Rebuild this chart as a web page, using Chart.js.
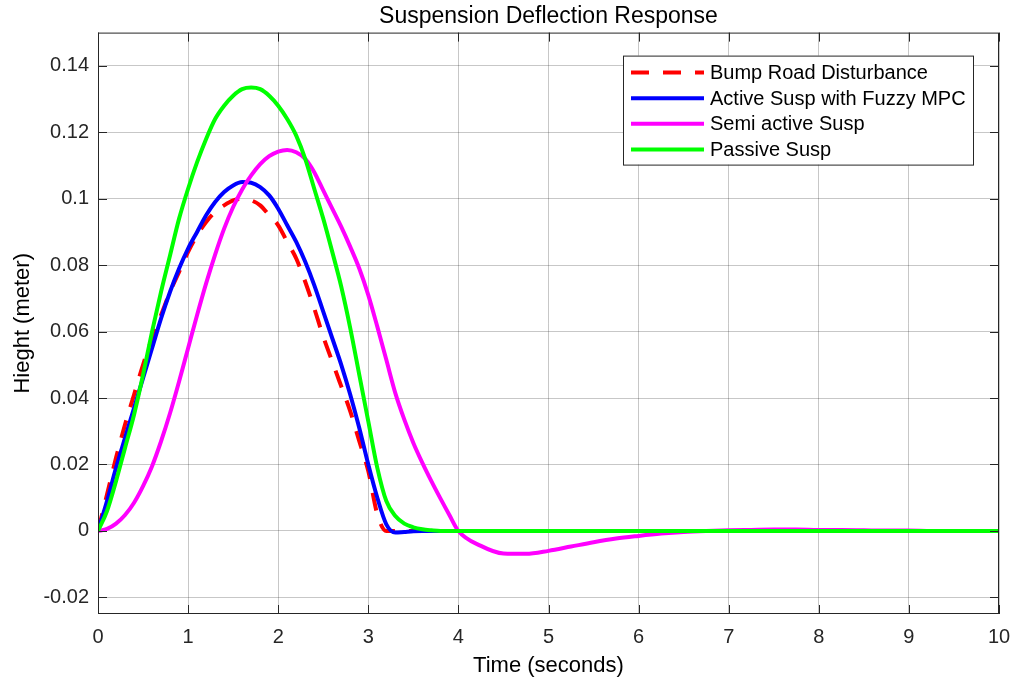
<!DOCTYPE html>
<html>
<head>
<meta charset="utf-8">
<script src="https://cdn.jsdelivr.net/npm/chart.js@4"></script>
<style>
  html, body { margin: 0; padding: 0; background: #fff; }
  #wrap { width: 1011px; height: 680px; }
</style>
</head>
<body>
<div id="wrap"><canvas id="deflChart" width="1011" height="680"></canvas></div>
<script>
// 시간축 (초) - 0~4초는 0.1 간격, 이후 0.25 간격
const timeSec = [
  0, 0.1, 0.2, 0.3, 0.4, 0.5, 0.6, 0.7, 0.8, 0.9,
  1.0, 1.1, 1.2, 1.3, 1.4, 1.5, 1.6, 1.7, 1.8, 1.9,
  2.0, 2.1, 2.2, 2.3, 2.4, 2.5, 2.6, 2.7, 2.8, 2.9,
  3.0, 3.1, 3.2, 3.3, 3.4, 3.5, 3.6, 3.7, 3.8, 3.9,
  4.0, 4.25, 4.5, 4.75, 5.0, 5.25, 5.5, 5.75, 6.0, 6.25,
  6.5, 6.75, 7.0, 7.25, 7.5, 7.75, 8.0, 8.25, 8.5, 8.75,
  9.0, 9.25, 9.5, 9.75, 10.0
];

// 노면 범프 입력 (빨간 점선)
const bumpRoad = [
  0, 0.011, 0.022, 0.032, 0.041, 0.050, 0.058, 0.065, 0.072, 0.078,
  0.084, 0.089, 0.093, 0.096, 0.098, 0.0995, 0.100, 0.0995, 0.098, 0.095,
  0.092, 0.087, 0.082, 0.075, 0.067, 0.0585, 0.051, 0.0435, 0.036, 0.027,
  0.018, 0.005, 0, 0, 0, 0, 0, 0, 0, 0,
  0, 0, 0, 0, 0, 0, 0, 0, 0, 0,
  0, 0, 0, 0, 0, 0, 0, 0, 0, 0,
  0, 0, 0, 0, 0
];

// 능동 현가 (Fuzzy MPC)
const activeFuzzy = [
  0, 0.009, 0.019, 0.028, 0.037, 0.046, 0.055, 0.064, 0.072, 0.079,
  0.085, 0.090, 0.095, 0.099, 0.102, 0.104, 0.105, 0.1048, 0.1035, 0.101,
  0.097, 0.092, 0.087, 0.081, 0.074, 0.066, 0.058, 0.050, 0.041, 0.031,
  0.020, 0.010, 0.002, -0.0005, -0.0003, -0.0001, 0, 0, 0, 0,
  0, 0, 0, 0, 0, 0, 0, 0, 0, 0,
  0, 0, 0, 0, 0, 0, 0, 0, 0, 0,
  0, 0, 0, 0, 0
];

// 반능동 현가
const semiActive = [
  0, 0.0006, 0.0022, 0.0048, 0.0085, 0.0135, 0.0195, 0.027, 0.0355, 0.045,
  0.055, 0.065, 0.0745, 0.0832, 0.091, 0.0975, 0.1028, 0.107, 0.1104, 0.1128,
  0.1142, 0.1147, 0.114, 0.112, 0.108, 0.1025, 0.097, 0.0915, 0.0855, 0.079,
  0.071, 0.0615, 0.0515, 0.0415, 0.0335, 0.0265, 0.0205, 0.015, 0.0098, 0.0048,
  0, -0.0045, -0.0068, -0.0069, -0.006, -0.0047, -0.0034, -0.0023, -0.0015, -0.0008,
  -0.0003, 0, 0.0002, 0.0003, 0.0004, 0.0004, 0.0003, 0.0003, 0.0002, 0.0001,
  0.0001, 0, 0, 0, 0
];

// 수동 현가
const passive = [
  0, 0.006, 0.015, 0.025, 0.035, 0.047, 0.060, 0.072, 0.083, 0.094,
  0.103, 0.111, 0.118, 0.124, 0.128, 0.131, 0.133, 0.1335, 0.133, 0.131,
  0.128, 0.124, 0.119, 0.112, 0.103, 0.094, 0.084, 0.0735, 0.061, 0.047,
  0.033, 0.019, 0.009, 0.0045, 0.0022, 0.0011, 0.0005, 0.0002, 0, 0,
  0, 0, 0, 0, 0, 0, 0, 0, 0, 0,
  0, 0, 0, 0, 0, 0, 0, 0, 0, 0,
  0, 0, 0, 0, 0
];

const seriesNames = ['Bump Road Disturbance', 'Active Susp with Fuzzy MPC', 'Semi active Susp', 'Passive Susp'];

// 눈금
const xTickValues = [0, 1, 2, 3, 4, 5, 6, 7, 8, 9, 10];
const xTickLabels = ['0', '1', '2', '3', '4', '5', '6', '7', '8', '9', '10'];
const yTickValues = [-0.02, 0, 0.02, 0.04, 0.06, 0.08, 0.1, 0.12, 0.14];
const yTickLabels = ['-0.02', '0', '0.02', '0.04', '0.06', '0.08', '0.1', '0.12', '0.14'];

const FONT = '"Liberation Sans", Arial, Helvetica, sans-serif';

function toPoints(vals) {
  return timeSec.map((t, i) => ({ x: t, y: vals[i] }));
}

// 박스 테두리 + 안쪽 눈금 + 범례 (MATLAB 스타일)
const matlabFrame = {
  id: 'matlabFrame',
  afterDraw(chart) {
    const { ctx, chartArea: a, scales } = chart;
    ctx.save();
    ctx.strokeStyle = '#262626';
    ctx.lineWidth = 1;
    ctx.strokeRect(a.left + 0.5, a.top + 0.5, a.right - a.left - 1, a.bottom - a.top - 1);

    // 안쪽 눈금
    const tl = 9;
    ctx.beginPath();
    xTickValues.forEach(v => {
      const px = Math.round(scales.x.getPixelForValue(v)) + 0.5;
      ctx.moveTo(px, a.bottom); ctx.lineTo(px, a.bottom - tl);
      ctx.moveTo(px, a.top); ctx.lineTo(px, a.top + tl);
    });
    yTickValues.forEach(v => {
      const py = Math.round(scales.y.getPixelForValue(v)) + 0.5;
      ctx.moveTo(a.left, py); ctx.lineTo(a.left + tl, py);
      ctx.moveTo(a.right, py); ctx.lineTo(a.right - tl, py);
    });
    ctx.stroke();

    // 범례
    const bx = a.right - 376, by = a.top + 23, bw = 350, bh = 109;
    ctx.fillStyle = '#fff';
    ctx.fillRect(bx, by, bw, bh);
    ctx.strokeStyle = '#262626';
    ctx.strokeRect(bx + 0.5, by + 0.5, bw, bh);
    ctx.font = '20px ' + FONT;
    ctx.textBaseline = 'middle';
    chart.data.datasets.forEach((ds, i) => {
      const y = by + 17 + i * 25.6;
      ctx.beginPath();
      ctx.strokeStyle = ds.borderColor;
      ctx.lineWidth = 4;
      ctx.setLineDash(ds.borderDash || []);
      ctx.moveTo(bx + 8, y);
      ctx.lineTo(bx + 81, y);
      ctx.stroke();
      ctx.setLineDash([]);
      ctx.fillStyle = '#000';
      ctx.fillText(seriesNames[i], bx + 87, y + 1);
    });
    ctx.restore();
  }
};

const ctx = document.getElementById('deflChart').getContext('2d');
const myChart = new Chart(ctx, {
  type: 'line',
  data: {
    datasets: [
      { label: seriesNames[0], data: toPoints(bumpRoad), borderColor: '#ff0000', borderDash: [18, 14], order: 4 },
      { label: seriesNames[1], data: toPoints(activeFuzzy), borderColor: '#0000ff', order: 3 },
      { label: seriesNames[2], data: toPoints(semiActive), borderColor: '#ff00ff', order: 2 },
      { label: seriesNames[3], data: toPoints(passive), borderColor: '#00ff00', order: 1 }
    ]
  },
  options: {
    responsive: false,
    animation: false,
    devicePixelRatio: 1,
    layout: { padding: { left: 0, right: 12, top: 0, bottom: 0 } },
    elements: {
      point: { radius: 0 },
      line: { borderWidth: 4, cubicInterpolationMode: 'monotone', fill: false }
    },
    plugins: {
      legend: { display: false },
      tooltip: { enabled: false },
      title: {
        display: true,
        fullSize: false,
        text: 'Suspension Deflection Response',
        color: '#000',
        font: { family: FONT, size: 23, weight: 'normal' },
        padding: { top: 3, bottom: 2 }
      }
    },
    scales: {
      x: {
        type: 'linear',
        min: 0, max: 10,
        afterBuildTicks: axis => { axis.ticks = xTickValues.map(v => ({ value: v })); },
        afterFit: axis => { axis.height = 66; axis.paddingLeft = 0; axis.paddingRight = 0; },
        ticks: {
          color: '#262626',
          font: { family: FONT, size: 20 },
          padding: 11,
          maxRotation: 0,
          callback: (v) => xTickLabels[xTickValues.indexOf(v)]
        },
        grid: { color: 'rgba(0,0,0,0.22)', drawTicks: false },
        border: { display: false },
        title: {
          display: true,
          text: 'Time (seconds)',
          color: '#000',
          font: { family: FONT, size: 22 },
          padding: { top: 0, bottom: 1 }
        }
      },
      y: {
        type: 'linear',
        min: -0.025, max: 0.15,
        afterBuildTicks: axis => { axis.ticks = yTickValues.map(v => ({ value: v })); },
        afterFit: axis => { axis.width = 98; axis.paddingTop = 0; axis.paddingBottom = 0; },
        ticks: {
          color: '#262626',
          font: { family: FONT, size: 20 },
          padding: 9,
          callback: (v) => {
            const k = yTickValues.findIndex(t => Math.abs(t - v) < 1e-9);
            return k >= 0 ? yTickLabels[k] : '';
          }
        },
        grid: { color: 'rgba(0,0,0,0.22)', drawTicks: false },
        border: { display: false },
        title: {
          display: true,
          text: 'Hieght (meter)',
          color: '#000',
          font: { family: FONT, size: 22 },
          padding: { top: 10, bottom: 0 }
        }
      }
    }
  },
  plugins: [matlabFrame]
});
</script>
</body>
</html>
